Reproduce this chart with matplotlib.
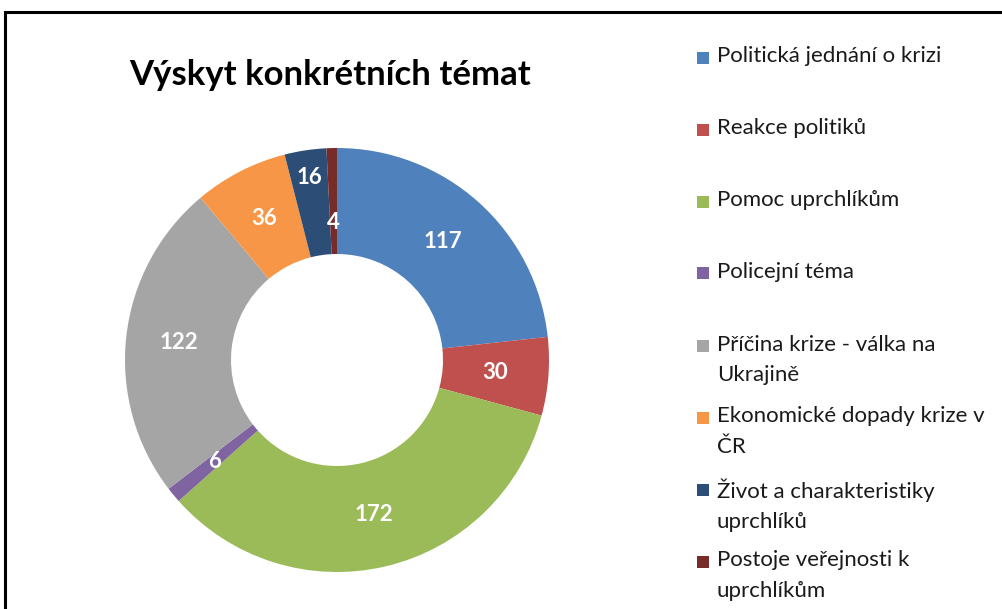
"""
Donut chart: occurrence of specific topics
"""
import matplotlib
matplotlib.use("Agg")
import numpy as np
import matplotlib.pyplot as plt
from matplotlib.patches import Rectangle

FONT = ["Lato", "DejaVu Sans"]

labels = [
    "Politická jednání o krizi",
    "Reakce politiků",
    "Pomoc uprchlíkům",
    "Policejní téma",
    "Příčina krize - válka na\nUkrajině",
    "Ekonomické dopady krize v\nČR",
    "Život a charakteristiky\nuprchlíků",
    "Postoje veřejnosti k\nuprchlíkům",
]
values = [117, 30, 172, 6, 122, 36, 16, 4]
colors = ["#4F81BD", "#C0504D", "#9BBB59", "#8064A2",
          "#A5A5A5", "#F79646", "#2C4D75", "#772C2A"]

# small slices near the top get their labels pushed apart
label_radius = {6: 0.87, 7: 0.65}

W, H = 1002, 609
plt.rcParams["font.family"] = FONT
fig = plt.figure(figsize=(W / 100, H / 100), dpi=100)

cx, cy, r = 337, 360, 212
ax = fig.add_axes([(cx - r) / W, (H - cy - r) / H, 2 * r / W, 2 * r / H])
wedges, _ = ax.pie(values, colors=colors, startangle=90, counterclock=False,
                   radius=1.0, wedgeprops=dict(width=0.5, linewidth=0))
ax.set_xlim(-1, 1)
ax.set_ylim(-1, 1)
ax.set_aspect("equal")
ax.axis("off")

for i, (w, v) in enumerate(zip(wedges, values)):
    ang = np.deg2rad((w.theta1 + w.theta2) / 2)
    rr = label_radius.get(i, 0.75)
    ax.text(rr * np.cos(ang), rr * np.sin(ang), str(v), ha="center", va="center",
            color="white", fontsize=16, fontweight="bold")

fig.text(330 / W, 1 - 75 / H, "Výskyt konkrétních témat", ha="center", va="center",
         fontsize=25, fontweight="bold", color="black")

# legend drawn by hand so every entry keeps the same pitch
sq = 12
for i, (lab, col) in enumerate(zip(labels, colors)):
    yc = 57.5 + 72 * i
    fig.add_artist(Rectangle((697 / W, 1 - (yc + sq / 2) / H), sq / W, sq / H,
                             facecolor=col, edgecolor="none",
                             transform=fig.transFigure))
    fig.text(717 / W, 1 - (yc - 11) / H, lab, ha="left", va="top",
             fontsize=16, color="#1a1a1a", linespacing=1.65)

# outer frame (cropped at right and bottom)
fig.add_artist(Rectangle((5 / W, -0.1), 2, 1.1 - 12 / H, fill=False,
                         edgecolor="black", linewidth=2.2,
                         transform=fig.transFigure, clip_on=False))

fig.savefig("out.png", dpi=100)
